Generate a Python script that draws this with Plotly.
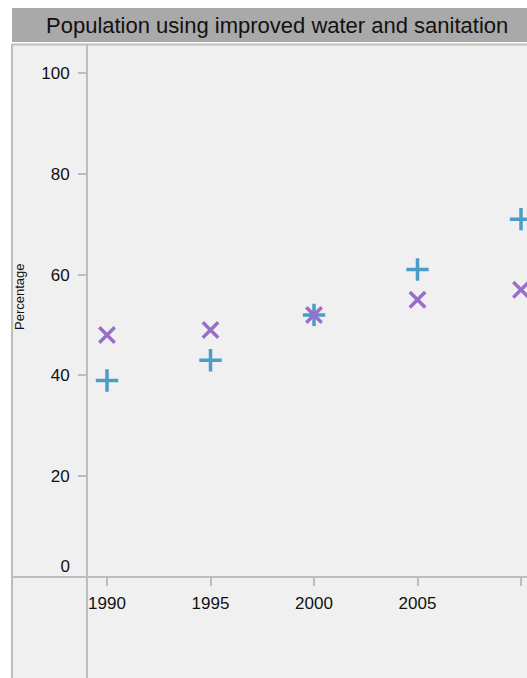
import plotly.graph_objects as go

years = [1990, 1995, 2000, 2005, 2010]
water = [39, 43, 52, 61, 71]
sanitation = [48, 49, 52, 55, 57]
y_ticks = [20, 40, 60, 80, 100]

W, H = 527, 678
L, R, T, B = 87, 0, 45, 101
pw, ph = W - L - R, H - T - B

def px(xp):
    return (xp - L) / pw

def py(yp):
    return 1 - (yp - T) / ph

line_col = "#bdbdbd"
fig = go.Figure()
fig.add_trace(go.Scatter(x=years, y=water, mode="markers", name="Water",
                         marker=dict(symbol="cross-thin", size=16,
                                     line=dict(width=3.5, color="#4c9cc8"))))
fig.add_trace(go.Scatter(x=years, y=sanitation, mode="markers", name="Sanitation",
                         marker=dict(symbol="x-thin", size=15.5,
                                     line=dict(width=3.5, color="#9a6ec8"))))
# overlay axis only for the zero label (shifted up)
fig.add_trace(go.Scatter(x=[years[0]], y=[None], yaxis="y2", showlegend=False,
                         hoverinfo="skip", mode="markers"))

shapes = [
    dict(type="rect", xref="paper", yref="paper", x0=px(12), x1=px(527), y0=py(678), y1=py(45),
         fillcolor="#f0f0f0", line=dict(width=0), layer="below"),
    dict(type="rect", xref="paper", yref="paper", x0=px(12), x1=px(527), y0=py(42), y1=py(8),
         fillcolor="#a9a9a9", line=dict(width=0), layer="below"),
    dict(type="line", xref="paper", yref="paper", x0=px(12), x1=px(12), y0=py(678), y1=py(44),
         line=dict(color=line_col, width=2)),
    dict(type="line", xref="paper", yref="paper", x0=px(87), x1=px(87), y0=py(678), y1=py(44),
         line=dict(color=line_col, width=2)),
    dict(type="line", xref="paper", yref="paper", x0=px(12), x1=px(527), y0=py(44.5), y1=py(44.5),
         line=dict(color=line_col, width=2)),
    dict(type="line", xref="paper", yref="paper", x0=px(12), x1=px(527), y0=py(577), y1=py(577),
         line=dict(color=line_col, width=2)),
]

annotations = [
    dict(text="Population using improved water and sanitation", xref="paper", yref="paper",
         x=px(277), y=py(26), xanchor="center", yanchor="middle", showarrow=False,
         font=dict(size=22, color="#111111")),
    dict(text="Percentage", xref="paper", yref="paper", x=px(20), y=py(297),
         xanchor="center", yanchor="middle", textangle=-90, showarrow=False,
         font=dict(size=13, color="#111111")),
]

x0 = 1990 - (107 - 87) / 103.5 * 5
x1 = 1990 + (527 - 107) / 103.5 * 5
ytop = 100 * (577 - 45) / (577 - 73)

fig.update_layout(
    width=W, height=H,
    margin=dict(l=L, r=R, t=T, b=B, pad=0),
    paper_bgcolor="white", plot_bgcolor="#f0f0f0",
    showlegend=False,
    font=dict(family="Liberation Sans, Arial, sans-serif", size=17, color="#111111"),
    shapes=shapes, annotations=annotations,
    xaxis=dict(range=[x0, x1], tickvals=years, ticks="outside", ticklen=8,
               tickcolor=line_col, tickwidth=2, showgrid=False, zeroline=False,
               showline=False, ticklabelstandoff=3, tickfont=dict(size=17)),
    yaxis=dict(range=[0, ytop], tickvals=y_ticks, ticks="outside",
               ticklen=8, tickcolor=line_col, tickwidth=2, showgrid=False,
               zeroline=False, showline=False, ticklabelstandoff=5, tickfont=dict(size=17)),
    yaxis2=dict(overlaying="y", side="left", range=[0, ytop],
                tickvals=[0], ticktext=["0"], ticks="", showgrid=False, zeroline=False,
                showline=False, ticklabelstandoff=16, ticklabelshift=-11, tickfont=dict(size=17)),
)

fig.write_html("out.html", config={"displayModeBar": False},
               post_script="document.body.style.margin='0';document.body.style.overflow='hidden';")
